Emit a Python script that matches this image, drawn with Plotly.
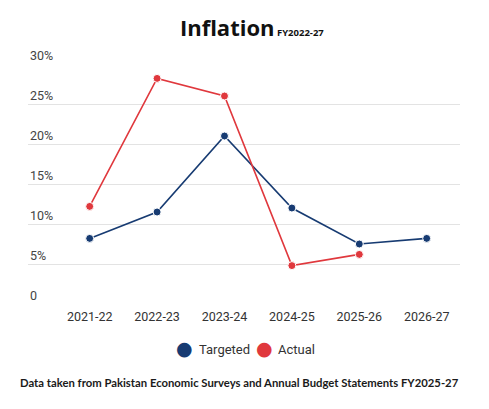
import plotly.graph_objects as go

years = ["2021-22", "2022-23", "2023-24", "2024-25", "2025-26", "2026-27"]
targeted = [8.2, 11.5, 21.0, 12.0, 7.5, 8.2]
actual = [12.2, 28.2, 26.0, 4.8, 6.2, None]
y_ticks = [0, 5, 10, 15, 20, 25, 30]
y_tick_labels = ["0", "5%", "10%", "15%", "20%", "25%", "30%"]
series_names = ["Targeted", "Actual"]

NAVY = "#173b72"
RED = "#e0383d"
colors = [NAVY, RED]

fig = go.Figure()
for name, vals, col in zip(series_names, [targeted, actual], colors):
    fig.add_trace(go.Scatter(
        x=years, y=vals, name=name, mode="lines+markers", showlegend=False,
        line=dict(color=col, width=1.6),
        marker=dict(color=col, size=8, line=dict(color="white", width=1)),
        cliponaxis=False))

for v, t in zip(y_ticks, y_tick_labels):
    fig.add_annotation(x=0, xref="paper", y=v, yref="y", text=t,
                       showarrow=False, xanchor="left", yanchor="bottom",
                       font=dict(family="Roboto", size=12.5, color="#444"),
                       yshift=-1)

# legend entries (circle + label)
legend_dot_x = [0.3634, 0.5463]
legend_txt_x = [0.3912, 0.5741]
for n, c, dx, tx in zip(series_names, colors, legend_dot_x, legend_txt_x):
    fig.add_annotation(x=dx, xref="paper", y=-0.1875, yref="paper", text="●",
                       showarrow=False, xanchor="center", yanchor="middle",
                       font=dict(family="DejaVu Sans", size=19, color=c), yshift=1)
    fig.add_annotation(x=tx, xref="paper", y=-0.1875, yref="paper", text=n,
                       showarrow=False, xanchor="left", yanchor="middle",
                       font=dict(family="Roboto", size=13, color="#333"))

fig.add_annotation(x=0.49, xref="paper", y=-0.329, yref="paper",
                   text="<b>Data taken from Pakistan Economic Surveys and Annual Budget Statements FY2025-27</b>",
                   showarrow=False, xanchor="center", yanchor="middle",
                   font=dict(family="Lato", size=11.3, color="#1a1a1a"))

fig.update_layout(
    width=489, height=409,
    margin=dict(l=28, r=29, t=64, b=105),
    paper_bgcolor="white", plot_bgcolor="white",
    showlegend=False,
    title=dict(text="<b>Inflation</b><span style='font-size:9.5px'><b> FY2022-27</b></span>",
               x=0.515, xanchor="center", y=0.93, yanchor="middle", yref="container",
               font=dict(family="Open Sans", size=22, color="#111")),
    xaxis=dict(type="category", range=[-0.915, 5.494], showgrid=False,
               showline=False, zeroline=False, ticks="", ticklabelstandoff=3,
               tickfont=dict(family="Roboto", size=12.5, color="#333")),
    yaxis=dict(range=[0, 30], tickvals=y_ticks, showticklabels=False,
               gridcolor="#e3e3e3", gridwidth=1, zeroline=False, showline=False),
)

fig.write_html("out.html")
